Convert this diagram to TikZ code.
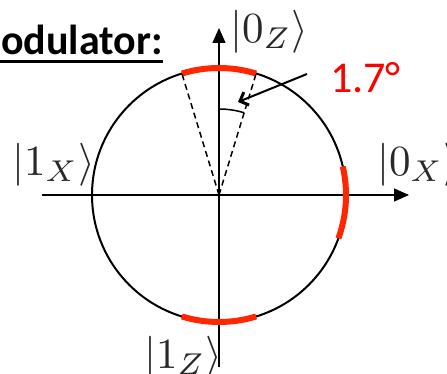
\documentclass[tikz,border=0pt]{standalone}
\usepackage{graphicx}
\usepackage{fontspec}
\newfontfamily\calibri{Carlito}
\usetikzlibrary{arrows.meta,calc}
\definecolor{arcred}{RGB}{255,38,0}
\definecolor{txtred}{RGB}{255,0,0}
\definecolor{lblgray}{RGB}{40,40,40}
\newcommand{\bigket}[1]{\scalebox{4.3}{$#1$}}
\begin{document}
\begin{tikzpicture}[x=1pt,y=1pt,
  axisline/.style={line width=1.3pt,-{Triangle[length=15pt,width=13pt]}},
  redarc/.style={arcred,line width=6pt},
  ketlabel/.style={inner sep=0pt,text=lblgray},
  dashray/.style={line width=1.5pt,dash pattern=on 6pt off 4pt}]
\useasboundingbox (0,0) rectangle (447,373);
\clip (0,0) rectangle (447,373);
\coordinate (C) at (219,178);
% axes
\coordinate (xL) at (42,178);
\coordinate (xR) at (409,178);
\coordinate (zB) at (219,6);
\coordinate (zT) at (219,345);
\draw[axisline] (xL) -- (xR);
\draw[axisline] (zB) -- (zT);
% circle
\draw[line width=2pt] (C) circle[radius=127];
% red arcs
\coordinate (TA) at ($(C)+(73:127)$);
\coordinate (TB) at ($(C)+(107:127)$);
\draw[redarc] (TA) arc[start angle=73,end angle=107,radius=127];
\draw[redarc] ($(C)+(253:127)$) arc[start angle=253,end angle=287,radius=127];
\draw[redarc] ($(C)+(-20:127)$) arc[start angle=-20,end angle=13,radius=127];
% dashed rays
\draw[dashray] (C) -- (TA);
\draw[dashray] (C) -- (TB);
% small angle arc
\draw[line width=1.5pt] ($(C)+(0,86)$) arc[start angle=90,end angle=73,radius=86];
% pointer arrow
\coordinate (pS) at (307,299);
\coordinate (pE) at (238,271);
\draw[line width=2pt,-{Straight Barb[length=7pt,width=14pt,line width=3pt]}] (pS) -- (pE);
% labels
\node[ketlabel,anchor=west] (l0z) at (230,341.5) {\bigket{|0_Z\rangle}};
\node[ketlabel,anchor=west] (l1x) at (12,208.5) {\bigket{|1_X\rangle}};
\node[ketlabel,anchor=west] (l0x) at (377,208.5) {\bigket{|0_X\rangle}};
\node[ketlabel,anchor=west] (l1z) at (144,15.5) {\bigket{|1_Z\rangle}};
\node[inner sep=0pt,anchor=base west,text=txtred,font=\calibri\fontsize{44}{46}\selectfont] (ang) at (330,280) {1.7°};
\node[inner sep=0pt,anchor=base east,font=\calibri\bfseries\fontsize{42}{44}\selectfont] (title) at (163,318) {odulator:};
\coordinate (uL) at (0,311.5);
\coordinate (uR) at (163,311.5);
\draw[line width=3pt] (uL) -- (uR);
\end{tikzpicture}
\end{document}
